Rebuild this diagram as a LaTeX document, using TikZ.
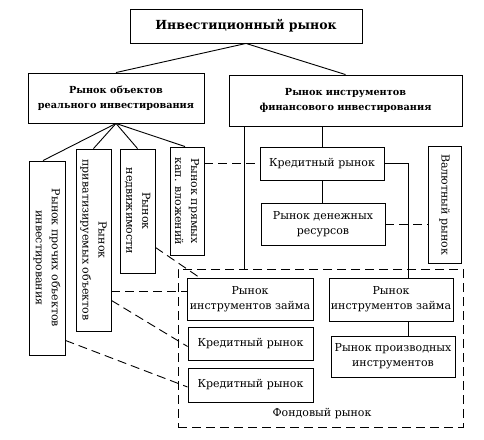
\documentclass[tikz,border=0pt]{standalone}
\usepackage{fontspec}
\setmainfont{DejaVu Serif}
\usetikzlibrary{calc}
\begin{document}
\begin{tikzpicture}[x=1pt,y=-1pt,
  box/.style={draw, line width=0.9pt, inner sep=0pt, align=center, font=\fontsize{11}{15}\selectfont},
  vbox/.style={box, rotate=-90, font=\fontsize{11}{16}\selectfont},
  boldbox/.style={box, font=\bfseries\fontsize{9.7}{15}\selectfont},
  ln/.style={line width=0.9pt},
  dsh/.style={line width=0.9pt, dash pattern=on 9pt off 5pt}]
\useasboundingbox (0,0) rectangle (484,439);
% frame of the stock market
\node[draw, dsh, inner sep=0pt, minimum width=285pt, minimum height=158pt] (fond) at (320.5,348) {};
\node[font=\fontsize{11}{15}\selectfont] (fondlbl) at (322,414) {Фондовый рынок};
% top levels
\node[box, font=\bfseries\fontsize{12.5}{15}\selectfont, minimum width=232pt, minimum height=34pt] (top) at (246,26) {Инвестиционный рынок};
\node[boldbox, minimum width=176pt, minimum height=50pt] (left2) at (116,98) {Рынок объектов\\реального инвестирования};
\node[boldbox, minimum width=233pt, minimum height=51pt] (right2) at (345.5,100.5) {Рынок инструментов\\финансового инвестирования};
% vertical boxes
\node[vbox, minimum width=194pt, minimum height=36pt] (A) at (47,258) {Рынок прочих объектов\\инвестирования};
\node[vbox, minimum width=182pt, minimum height=35pt] (B) at (93.5,240) {Рынок\\приватизируемых объектов};
\node[vbox, minimum width=124pt, minimum height=35pt] (C) at (137.5,211) {Рынок\\недвижимости};
\node[vbox, minimum width=108pt, minimum height=34pt] (D) at (187,201) {Рынок прямых\\кап. вложений};
\node[vbox, minimum width=117pt, minimum height=33pt] (val) at (444.5,204.5) {Валютный рынок};
% right side boxes
\node[box, minimum width=124pt, minimum height=33pt] (kr1) at (322,163.5) {Кредитный рынок};
\node[box, minimum width=124pt, minimum height=42pt] (den) at (323,224) {Рынок денежных\\ресурсов};
\node[box, minimum width=126pt, minimum height=42pt] (zaimL) at (250,299) {Рынок\\инструментов займа};
\node[box, minimum width=125pt, minimum height=33pt] (kr2) at (250.5,343.5) {Кредитный рынок};
\node[box, minimum width=125pt, minimum height=34pt] (kr3) at (250.5,385) {Кредитный рынок};
\node[box, minimum width=124pt, minimum height=43pt] (zaimR) at (391,299.5) {Рынок\\инструментов займа};
\node[box, minimum width=124pt, minimum height=41pt] (proiz) at (393,356.5) {Рынок производных\\инструментов};
% helper coordinates
\coordinate (xl) at (244,0);
\coordinate (xr) at (408,0);
% solid connectors
\draw[ln] (top.south) -- (left2.north);
\draw[ln] (top.south) -- (right2.north);
\draw[ln] (left2.south) -- ($(A.west)+(-4,0)$);
\draw[ln] (left2.south) -- (B.west);
\draw[ln] (left2.south) -- (C.west);
\draw[ln] (left2.south) -- ($(D.west)+(-2,0)$);
\draw[ln] (right2.south -| xl) -- (fond.north -| xl);
\draw[ln] (kr1.north |- right2.south) -- (kr1.north);
\draw[ln] (kr1.south) -- (kr1.south |- den.north);
\draw[ln] (kr1.east) -| (zaimR.north -| xr);
\draw[ln] (zaimR.south -| xr) -- (proiz.north -| xr);
% dashed connectors
\draw[dsh] (D.north |- kr1.west) -- (kr1.west);
\draw[dsh] (den.east) -- (den.east -| val.south);
\draw[dsh] ($(C.north east)+(0,-26)$) -- ($(zaimL.north west)+(13,0)$);
\coordinate (b1) at ($(B.north east)+(0,-40)$);
\draw[dsh] (b1) -- (b1 -| zaimL.west);
\draw[dsh] ($(B.north east)+(0,-31)$) -- ($(kr2.west)+(0,3)$);
\draw[dsh] ($(A.north east)+(0,-15)$) -- ($(kr3.west)+(0,2)$);
\end{tikzpicture}
\end{document}
